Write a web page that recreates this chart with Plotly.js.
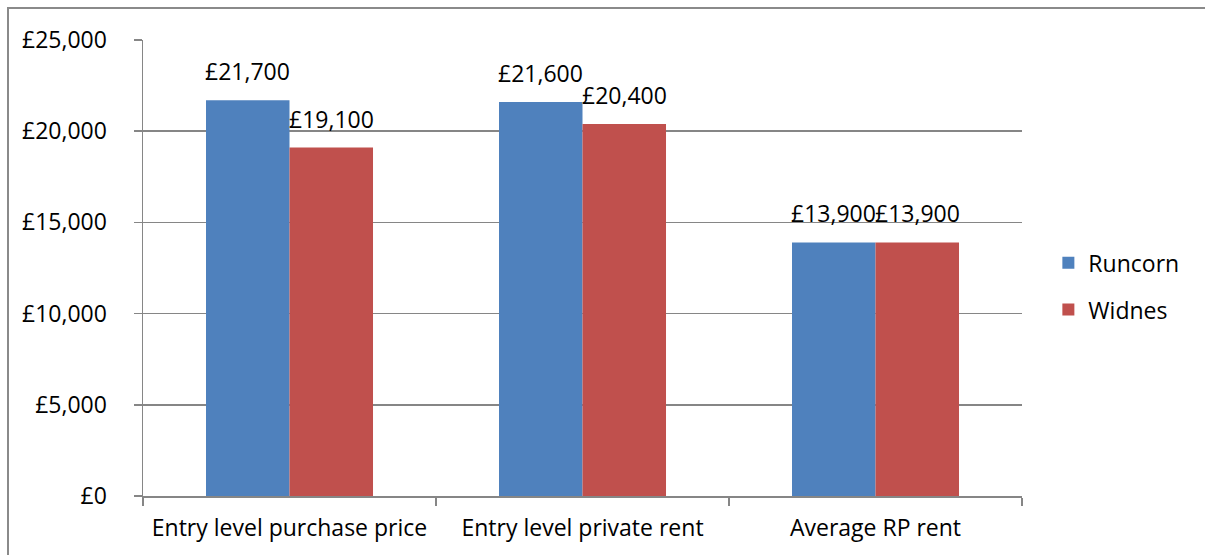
<!DOCTYPE html>
<html>
<head>
<meta charset="utf-8">
<script src="https://cdn.plot.ly/plotly-3.0.1.min.js"></script>
<style>
html,body{margin:0;padding:0;background:#fff;overflow:hidden;}
#wrap{position:relative;width:1205px;height:555px;overflow:hidden;}
#frame{position:absolute;left:7px;top:7px;width:1400px;height:800px;border-left:2px solid #8a8a8a;border-top:2px solid #8a8a8a;box-sizing:border-box;}
#chart{position:absolute;left:0;top:0;width:1205px;height:555px;}
</style>
</head>
<body>
<div id="wrap"><div id="frame"></div><div id="chart"></div></div>
<script>
const categories = ["Entry level purchase price", "Entry level private rent", "Average RP rent"];
const seriesNames = ["Runcorn", "Widnes"];
const runcorn = [21700, 21600, 13900];
const widnes = [19100, 20400, 13900];
const yTickVals = [0, 5000, 10000, 15000, 20000, 25000];
const yTickText = ["£0", "£5,000", "£10,000", "£15,000", "£20,000", "£25,000"];

const FONT = "'Open Sans', 'Liberation Sans', sans-serif";
const FS = 23;
const colors = ["#4F81BD", "#C0504D"];
const fmt = v => "£" + v.toLocaleString("en-GB");

const barW = 0.285;
const traces = [runcorn, widnes].map((vals, i) => ({
  type: "bar",
  name: seriesNames[i],
  x: categories,
  y: vals,
  width: barW,
  offset: i === 0 ? -barW : 0,
  marker: {color: colors[i], line: {width: 0}},
  legendgroup: "g" + i,
  hoverinfo: "none"
}));

const annotations = [];
[runcorn, widnes].forEach((vals, i) => {
  vals.forEach((v, j) => {
    annotations.push({
      xref: "x", yref: "y",
      x: j + (i === 0 ? -barW / 2 : barW / 2),
      y: v,
      text: fmt(v),
      showarrow: false,
      xanchor: "center",
      yanchor: "bottom",
      yshift: 11,
      font: {family: FONT, size: FS, color: "#000"}
    });
  });
});

const layout = {
  width: 1205, height: 555,
  margin: {l: 143, r: 183, t: 40, b: 59},
  paper_bgcolor: "rgba(0,0,0,0)",
  plot_bgcolor: "rgba(0,0,0,0)",
  font: {family: FONT, size: FS, color: "#000"},
  barmode: "group",
  showlegend: true,
  legend: {
    x: 1.03, xanchor: "left",
    y: 0.46, yanchor: "middle",
    traceorder: "grouped",
    tracegroupgap: 14,
    font: {family: FONT, size: FS, color: "#000"},
    bgcolor: "rgba(0,0,0,0)"
  },
  xaxis: {
    type: "category",
    range: [-0.5, 2.5],
    showgrid: false,
    showline: true,
    linecolor: "#868686",
    linewidth: 1.5,
    ticks: "outside",
    tickson: "boundaries",
    ticklen: 8,
    tickcolor: "#868686",
    tickwidth: 1.5,
    ticklabelstandoff: 11,
    tickfont: {family: FONT, size: FS, color: "#000"},
    fixedrange: true
  },
  yaxis: {
    range: [0, 25000],
    tickvals: yTickVals,
    ticktext: yTickText,
    showgrid: true,
    gridcolor: "#868686",
    gridwidth: 1.5,
    showline: true,
    linecolor: "#868686",
    linewidth: 1.5,
    ticks: "outside",
    ticklen: 8,
    tickcolor: "#868686",
    tickwidth: 1.5,
    ticklabelstandoff: 22,
    zeroline: false,
    tickfont: {family: FONT, size: FS, color: "#000"},
    fixedrange: true
  },
  annotations: annotations
};

Plotly.newPlot("chart", traces, layout, {displayModeBar: false, staticPlot: true});
</script>
</body>
</html>
